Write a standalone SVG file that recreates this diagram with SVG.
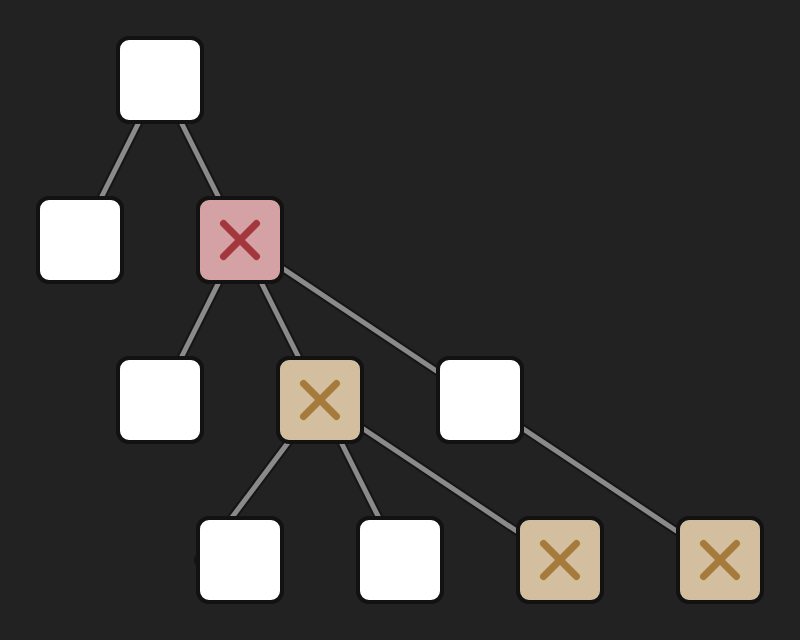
<svg xmlns="http://www.w3.org/2000/svg" width="800" height="640" viewBox="0 0 800 640">
  <defs>
    <style>
      .edge-bg { stroke: #151515; stroke-width: 9; stroke-linecap: butt; fill: none; }
      .edge { stroke: #8a8a8a; stroke-width: 5; stroke-linecap: butt; fill: none; }
      .box { stroke: #121212; stroke-width: 4; }
      .plain { fill: #ffffff; }
      .failed { fill: #d4a1a4; }
      .skipped { fill: #d3bf9f; }
      .x-red { stroke: #a4373d; stroke-width: 7; stroke-linecap: round; }
      .x-tan { stroke: #a57b3b; stroke-width: 7; stroke-linecap: round; }
    </style>
  </defs>
  <rect x="0" y="0" width="800" height="640" fill="#222222"/>

  <g id="connectors">
    <g>
      <line class="edge-bg" x1="160" y1="80" x2="80" y2="240"/>
      <line class="edge-bg" x1="160" y1="80" x2="240" y2="240"/>
      <line class="edge-bg" x1="240" y1="240" x2="160" y2="400"/>
      <line class="edge-bg" x1="240" y1="240" x2="320" y2="400"/>
      <line class="edge-bg" x1="240" y1="240" x2="480" y2="400"/>
      <line class="edge-bg" x1="320" y1="400" x2="200" y2="560"/>
      <line class="edge-bg" x1="320" y1="400" x2="400" y2="560"/>
      <line class="edge-bg" x1="320" y1="400" x2="560" y2="560"/>
      <line class="edge-bg" x1="480" y1="400" x2="720" y2="560"/>
    </g>
    <g>
      <line class="edge" x1="160" y1="80" x2="80" y2="240"/>
      <line class="edge" x1="160" y1="80" x2="240" y2="240"/>
      <line class="edge" x1="240" y1="240" x2="160" y2="400"/>
      <line class="edge" x1="240" y1="240" x2="320" y2="400"/>
      <line class="edge" x1="240" y1="240" x2="480" y2="400"/>
      <line class="edge" x1="320" y1="400" x2="200" y2="560"/>
      <line class="edge" x1="320" y1="400" x2="400" y2="560"/>
      <line class="edge" x1="320" y1="400" x2="560" y2="560"/>
      <line class="edge" x1="480" y1="400" x2="720" y2="560"/>
    </g>
  </g>

  <g id="n-root"><rect class="box plain" x="118" y="38" width="84" height="84" rx="11"/></g>
  <g id="n-a"><rect class="box plain" x="38" y="198" width="84" height="84" rx="11"/></g>
  <g id="n-b">
    <rect class="box failed" x="198" y="198" width="84" height="84" rx="11"/>
    <line class="x-red" x1="223.5" y1="223.5" x2="256.5" y2="256.5"/>
    <line class="x-red" x1="256.5" y1="223.5" x2="223.5" y2="256.5"/>
  </g>
  <g id="n-c"><rect class="box plain" x="118" y="358" width="84" height="84" rx="11"/></g>
  <g id="n-d">
    <rect class="box skipped" x="278" y="358" width="84" height="84" rx="11"/>
    <line class="x-tan" x1="303.5" y1="383.5" x2="336.5" y2="416.5"/>
    <line class="x-tan" x1="336.5" y1="383.5" x2="303.5" y2="416.5"/>
  </g>
  <g id="n-e"><rect class="box plain" x="438" y="358" width="84" height="84" rx="11"/></g>
  <g id="n-f">
    <circle cx="201" cy="560" r="7" fill="#121212"/>
    <rect class="box plain" x="198" y="518" width="84" height="84" rx="11"/>
  </g>
  <g id="n-g"><rect class="box plain" x="358" y="518" width="84" height="84" rx="11"/></g>
  <g id="n-h">
    <rect class="box skipped" x="518" y="518" width="84" height="84" rx="11"/>
    <line class="x-tan" x1="543.5" y1="543.5" x2="576.5" y2="576.5"/>
    <line class="x-tan" x1="576.5" y1="543.5" x2="543.5" y2="576.5"/>
  </g>
  <g id="n-i">
    <rect class="box skipped" x="678" y="518" width="84" height="84" rx="11"/>
    <line class="x-tan" x1="703.5" y1="543.5" x2="736.5" y2="576.5"/>
    <line class="x-tan" x1="736.5" y1="543.5" x2="703.5" y2="576.5"/>
  </g>
</svg>
